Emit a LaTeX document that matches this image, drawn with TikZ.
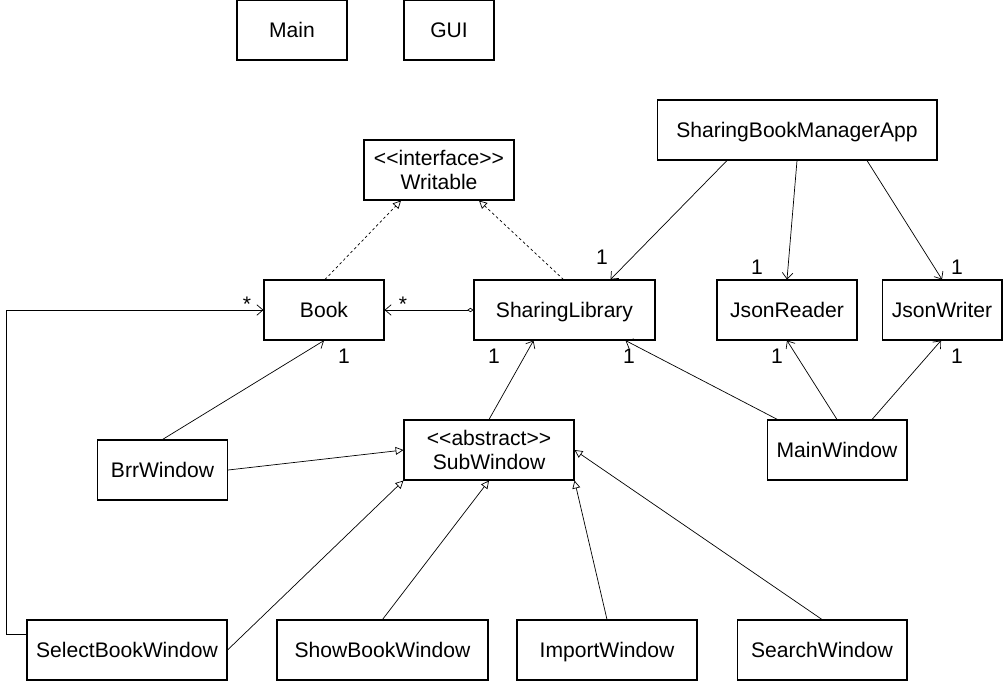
\documentclass[tikz,border=0pt]{standalone}
\usepackage{fontspec}
\setmainfont{Liberation Sans}[Ligatures=TeXOff]
\usetikzlibrary{arrows.meta,calc}

\begin{document}
\begin{tikzpicture}[x=0.02cm, y=-0.02cm,
    cls/.style={draw, line width=0.6pt, minimum height=1.2cm, inner sep=2pt, align=center, font=\fontsize{12}{14}\selectfont},
    one/.style={cls, text height=0.88em, text depth=0pt},
    lbl/.style={font=\fontsize{12}{14}\selectfont, inner sep=0pt},
    assoc/.style={line width=0.4pt, -{Straight Barb[length=3.5pt,width=6pt]}},
    inherit/.style={line width=0.4pt, -{Triangle[open,length=4.5pt,width=4.5pt]}},
    impl/.style={inherit, dash pattern=on 1.5pt off 1.5pt},
    agg/.style={line width=0.4pt, {Diamond[open,length=3.5pt,width=2.5pt]}-{Straight Barb[length=3.5pt,width=6pt]}}]
\useasboundingbox (0,0) rectangle (1003,681);

% classes
\node[one, minimum width=2.2cm] (main) at (292,30) {Main};
\node[one, minimum width=1.8cm] (gui) at (449,30) {GUI};
\node[cls, minimum width=3.0cm] (writable) at (439,170) {<<interface>>\\Writable};
\node[one, minimum width=5.6cm] (app) at (797,130) {SharingBookManagerApp};
\node[one, minimum width=2.4cm] (book) at (324,310) {Book};
\node[one, minimum width=3.62cm] (lib) at (564.5,310) {SharingLibrary};
\node[one, minimum width=2.8cm] (reader) at (787,310) {JsonReader};
\node[one, minimum width=2.4cm] (writer) at (942,310) {JsonWriter};
\node[one, minimum width=2.6cm] (brr) at (162.5,470) {BrrWindow};
\node[cls, minimum width=3.4cm] (sub) at (489,450) {<<abstract>>\\SubWindow};
\node[one, minimum width=2.8cm] (mainwin) at (837,450) {MainWindow};
\node[one, minimum width=4.0cm] (select) at (127,650) {SelectBookWindow};
\node[one, minimum width=4.22cm] (show) at (382.5,650) {ShowBookWindow};
\node[one, minimum width=3.6cm] (import) at (607,650) {ImportWindow};
\node[one, minimum width=3.4cm] (search) at (822,650) {SearchWindow};

% realisation
\draw[impl] ($(book.north)+(1,0)$) -- ($(writable.south)+(-38,0)$);
\draw[impl] ($(lib.north)+(-1,0)$) -- ($(writable.south)+(40,0)$);

% associations
\draw[agg] (lib.west) -- (book.east);
\draw[assoc] ($(select.north west)+(0,15)$) -- ++(-20,0) |- (book.west);
\draw[assoc] (brr.north) -- (book.south);
\draw[assoc] (sub.north) -- ($(lib.south)+(-31,0)$);
\draw[assoc] ($(mainwin.north west)+(11,0)$) -- ($(lib.south east)+(-30,0)$);
\draw[assoc] (mainwin.north) -- (reader.south);
\draw[assoc] ($(mainwin.north)+(35,0)$) -- ($(writer.south)+(-1,0)$);
\draw[assoc] ($(app.south)+(-70,0)$) -- ($(lib.north)+(46,0)$);
\draw[assoc] (app.south) -- (reader.north);
\draw[assoc] ($(app.south)+(70,0)$) -- (writer.north);

% generalisation
\draw[inherit] (brr.east) -- (sub.west);
\draw[inherit] (select.east) -- (sub.south west);
\draw[inherit] (show.north) -- (sub.south);
\draw[inherit] (import.north) -- (sub.south east);
\draw[inherit] (search.north) -- (sub.east);

% multiplicities
\node[lbl] (m1) at (247,304) {*};
\node[lbl] (m2) at (403,304) {*};
\node[lbl] (m3) at (344,356) {1};
\node[lbl] (m4) at (494,356) {1};
\node[lbl] (m5) at (629,356) {1};
\node[lbl] (m6) at (777,356) {1};
\node[lbl] (m7) at (957,356) {1};
\node[lbl] (m8) at (602,257) {1};
\node[lbl] (m9) at (757,267) {1};
\node[lbl] (m10) at (957,267) {1};
\end{tikzpicture}
\end{document}
